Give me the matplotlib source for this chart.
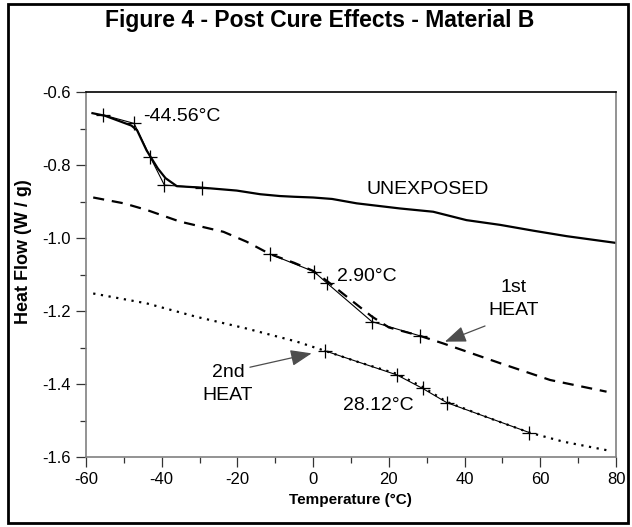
import numpy as np
import matplotlib
matplotlib.use("Agg")
import matplotlib.pyplot as plt
from matplotlib.patches import Rectangle
from matplotlib.ticker import MultipleLocator, FormatStrFormatter

plt.rcParams['font.family'] = ['Liberation Sans', 'DejaVu Sans']
plt.rcParams['axes.unicode_minus'] = False

# unexposed sample (solid)
unexp_t = [-58.3, -55, -48, -46.5, -44, -41, -39, -36, -29.4, -20.2, -14, -8.8, -5, 0, 5, 11.5,
           22.9, 31.7, 40.5, 49.4, 58.2, 67, 79.7]
unexp_hf = [-0.658, -0.665, -0.692, -0.705, -0.76, -0.81, -0.836, -0.858, -0.862, -0.870, -0.880,
            -0.885, -0.887, -0.889, -0.893, -0.905, -0.919, -0.928, -0.951, -0.964, -0.980, -0.995, -1.013]

# 1st heat (dashed)
heat1_t = [-58.1, -50, -44, -35.2, -23.7, -17.6, -11.4, -5, 0, 3.7, 10, 15.5, 20, 28.2, 34.4,
           49.4, 62.6, 77.5]
heat1_hf = [-0.889, -0.905, -0.923, -0.955, -0.983, -1.010, -1.044, -1.068, -1.090, -1.118, -1.170,
            -1.215, -1.245, -1.268, -1.289, -1.343, -1.389, -1.421]

# 2nd heat (dotted)
heat2_t = [-58.1, -44, -30.8, -17.6, -4.3, 3.1, 12, 22.1, 28.9, 35.3, 46.7, 57.1, 66.1, 78.4]
heat2_hf = [-1.152, -1.179, -1.216, -1.248, -1.284, -1.309, -1.340, -1.372, -1.408, -1.449,
            -1.494, -1.533, -1.558, -1.583]

# glass transition analysis points (+ markers, tangent lines)
tg_unexp_t = [-55.4, -47.3, -43.1, -39.3, -29.4]
tg_unexp_hf = [-0.663, -0.686, -0.777, -0.855, -0.862]
tg_heat1_t = [-11.4, 0.2, 3.7, 15.5, 28.2]
tg_heat1_hf = [-1.044, -1.092, -1.124, -1.229, -1.268]
tg_heat2_t = [3.1, 22.1, 28.9, 35.3, 57.1]
tg_heat2_hf = [-1.309, -1.375, -1.412, -1.451, -1.533]

fig = plt.figure(figsize=(6.32, 5.27), dpi=100)
ax = fig.add_axes([0.1361, 0.1328, 0.8386, 0.6926])

ax.plot(unexp_t, unexp_hf, color='black', lw=1.6)
ax.plot(heat1_t, heat1_hf, color='black', lw=1.6, linestyle=(0, (5, 3.5)))
ax.plot(heat2_t, heat2_hf, color='black', lw=1.6, linestyle=(0, (1, 2.5)))

for tt, hh in [(tg_unexp_t, tg_unexp_hf), (tg_heat1_t, tg_heat1_hf), (tg_heat2_t, tg_heat2_hf)]:
    ax.plot(tt, hh, color='black', lw=0.8, marker='+', markersize=10, markeredgewidth=0.9)

fs = 14
ax.text(-44.9, -0.668, '-44.56°C', fontsize=fs, va='center', ha='left')
ax.text(14.1, -0.868, 'UNEXPOSED', fontsize=fs, va='center', ha='left')
ax.text(6.2, -1.106, '2.90°C', fontsize=fs, va='center', ha='left')
ax.text(53.0, -1.167, '1st\nHEAT', fontsize=fs, va='center', ha='center', linespacing=1.5)
ax.text(-22.5, -1.40, '2nd\nHEAT', fontsize=fs, va='center', ha='center', linespacing=1.5)
ax.text(8.0, -1.458, '28.12°C', fontsize=fs, va='center', ha='left')

arrow_kw = dict(arrowstyle='-|>,head_length=1.3,head_width=0.5', color='#4d4d4d', lw=0.9,
                shrinkA=0, shrinkB=0)
ax.annotate('', xy=(34.8, -1.284), xytext=(45.4, -1.241), arrowprops=arrow_kw)
ax.annotate('', xy=(-0.4, -1.316), xytext=(-16.7, -1.354), arrowprops=arrow_kw)

ax.set_xlim(-60, 80)
ax.set_ylim(-1.6, -0.6)
ax.xaxis.set_major_locator(MultipleLocator(20))
ax.xaxis.set_minor_locator(MultipleLocator(10))
ax.yaxis.set_major_locator(MultipleLocator(0.2))
ax.yaxis.set_minor_locator(MultipleLocator(0.1))
ax.yaxis.set_major_formatter(FormatStrFormatter('%.1f'))
ax.tick_params(which='major', direction='out', length=7, width=0.9, color='#333333',
               labelsize=12, pad=4)
ax.tick_params(which='minor', direction='out', length=4, width=0.9, color='#333333')
for side in ['left', 'bottom', 'right']:
    ax.spines[side].set_color('#808080')
    ax.spines[side].set_linewidth(1.2)
ax.spines['top'].set_color('black')
ax.spines['top'].set_linewidth(1.2)

fig.text(0.506, 0.962, 'Figure 4 - Post Cure Effects - Material B', fontsize=16.5,
         fontweight='bold', ha='center', va='center')
fig.text(0.555, 0.051, 'Temperature (°C)', fontsize=11, fontweight='bold', ha='center', va='center')
fig.text(0.037, 0.523, 'Heat Flow (W / g)', fontsize=13, fontweight='bold', ha='center',
         va='center', rotation=90)

fig.patches.append(Rectangle((8 / 632, 4 / 527), 620 / 632, 519 / 527, transform=fig.transFigure,
                             fill=False, edgecolor='black', lw=2))

fig.savefig('out.png', dpi=100)
